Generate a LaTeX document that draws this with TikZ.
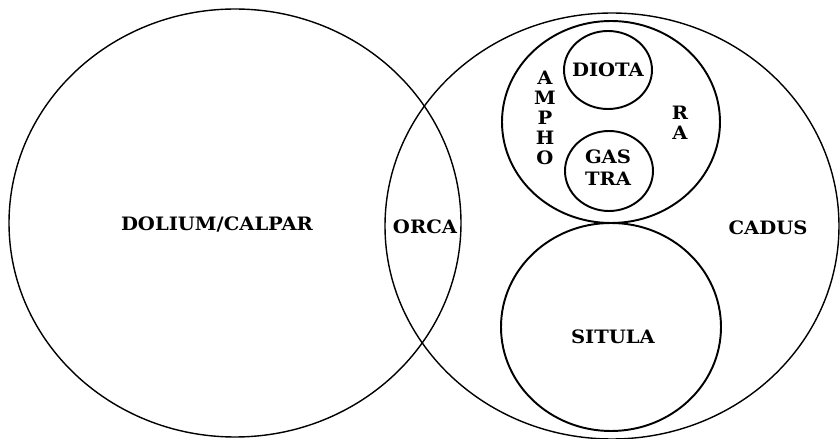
\documentclass[tikz,border=0pt]{standalone}
\usepackage{fontspec}
\newfontfamily\vesselfont[FakeStretch=1.06]{DejaVu Serif}
\usetikzlibrary{positioning}

\begin{document}
\begin{tikzpicture}[
  x=0.02cm, y=-0.02cm,
  font=\vesselfont\bfseries\fontsize{10.5}{11.3}\selectfont,
  outer/.style={line width=0.8pt},
  inner/.style={line width=1.1pt},
  lbl/.style={inner sep=0pt, align=center}]
  \useasboundingbox (0,0) rectangle (840,439);
  % the two big vessels
  \draw[outer] (235,223) ellipse [x radius=226, y radius=214];
  \draw[outer] (612,226) ellipse [x radius=227, y radius=213];
  % amphora with its two kinds, situla below
  \draw[inner] (611,122) ellipse [x radius=109, y radius=101];
  \draw[inner] (611,327) ellipse [x radius=110, y radius=104];
  \draw[inner] (608,70) ellipse [x radius=44, y radius=39];
  \draw[inner] (609,171) ellipse [x radius=44, y radius=40];
  \node[lbl] (dolium) at (217,225) {DOLIUM/CALPAR};
  \node[lbl] (orca) at (425,227) {ORCA};
  \node[lbl] (cadus) at (768,228) {CADUS};
  \node[lbl] (situla) at (613,337) {SITULA};
  \node[lbl] (diota) at (608,70) {DIOTA};
  \node[lbl, font=\vesselfont\bfseries\fontsize{10.5}{12.5}\selectfont] (gastra) at (608,168) {GAS\\TRA};
  \node[lbl] (ampho) at (545,118) {A\\M\\P\\H\\O};
  \node[lbl] (ra) at (680,123) {R\\A};
\end{tikzpicture}
\end{document}
